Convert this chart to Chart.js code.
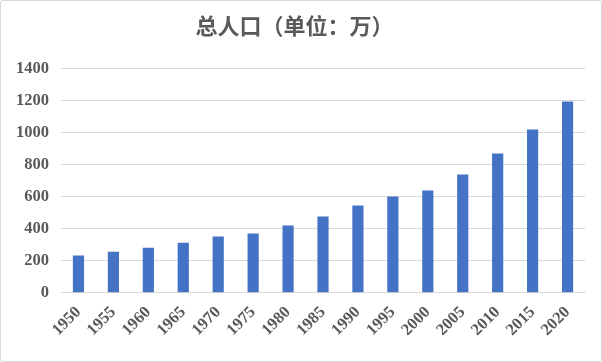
<!DOCTYPE html>
<html>
<head>
<meta charset="utf-8">
<script src="https://cdn.jsdelivr.net/npm/chart.js@4"></script>
<style>
  html, body { margin: 0; padding: 0; background: #fff; }
  #wrap { width: 600px; height: 360px; border: 1px solid #d9d9d9; border-radius: 3px; }
</style>
</head>
<body>
<div id="wrap"><canvas id="chart" width="600" height="360"></canvas></div>
<script>
const years = ['1950', '1955', '1960', '1965', '1970', '1975', '1980', '1985', '1990', '1995', '2000', '2005', '2010', '2015', '2020'];
const population = [232, 256, 281, 312, 350, 369, 419, 475, 544, 600, 637, 737, 869, 1019, 1194];
const yTicks = [0, 200, 400, 600, 800, 1000, 1200, 1400];

const tickFont = { family: '"Liberation Serif", "Times New Roman", serif', size: 16.5, weight: 'bold' };

new Chart(document.getElementById('chart').getContext('2d'), {
    type: 'bar',
    data: {
        labels: years,
        datasets: [{
            label: '总人口',
            data: population,
            backgroundColor: '#4472c4',
            barPercentage: 0.32,
            categoryPercentage: 1
        }]
    },
    options: {
        responsive: false,
        animation: false,
        layout: { padding: { left: 3, right: 16, top: 4, bottom: 19 } },
        plugins: {
            legend: { display: false },
            tooltip: { enabled: false },
            title: {
                display: true,
                text: '总人口（单位：万）',
                color: '#595959',
                font: { family: '"Noto Sans CJK SC", sans-serif', size: 22, weight: 'bold' },
                padding: { top: 7, bottom: 30 }
            }
        },
        scales: {
            x: {
                grid: { display: false },
                border: { color: '#d9d9d9' },
                ticks: { color: '#595959', font: tickFont, minRotation: 45, maxRotation: 45, padding: 2 },
                afterFit: s => { s.paddingLeft = 0; s.paddingRight = 0; }
            },
            y: {
                min: 0,
                max: 1400,
                afterBuildTicks: axis => { axis.ticks = yTicks.map(v => ({ value: v })); },
                grid: { color: '#d9d9d9', drawTicks: false },
                border: { display: false },
                ticks: { color: '#595959', font: tickFont, padding: 12, callback: v => String(v) }
            }
        }
    }
});
</script>
</body>
</html>
